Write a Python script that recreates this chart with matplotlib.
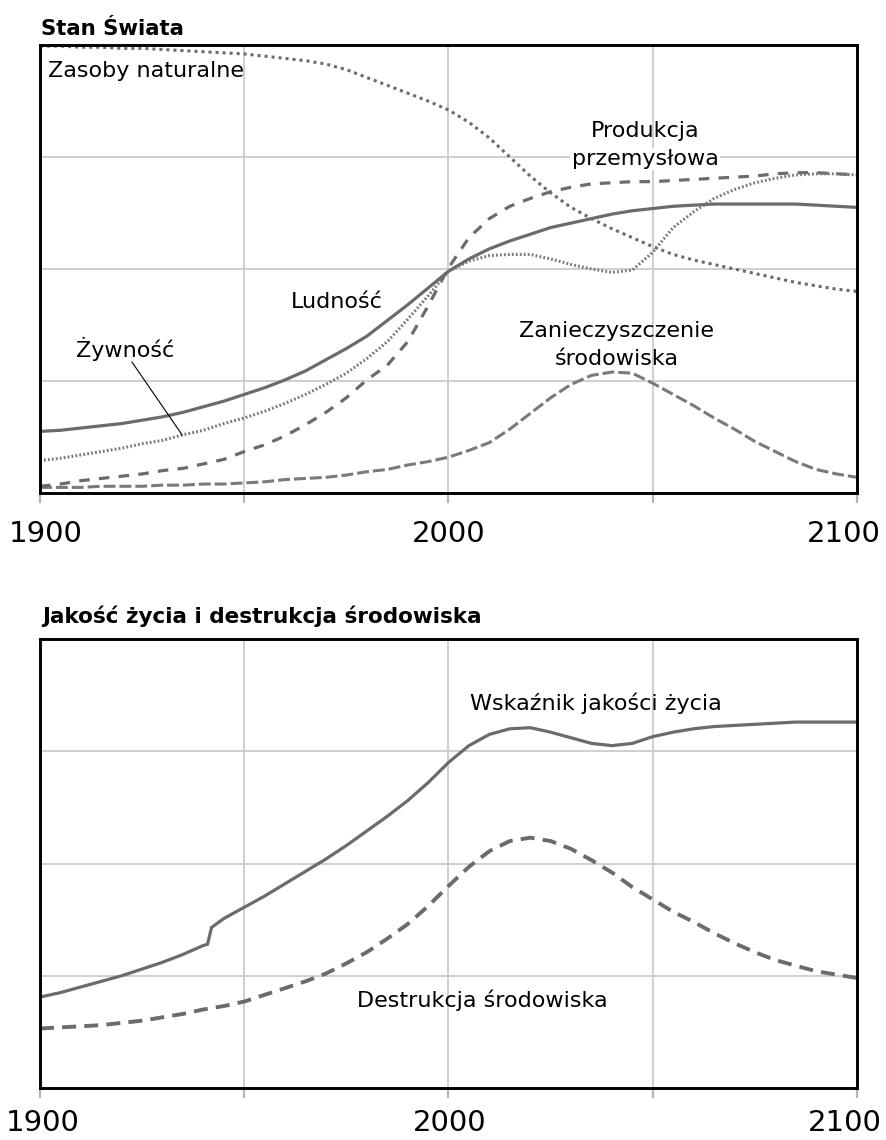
import matplotlib
matplotlib.use("Agg")
import matplotlib.pyplot as plt

plt.rcParams['font.family'] = ['DejaVu Sans']

# ---------------- data ----------------
YEARS = list(range(1900, 2101, 5))

population = [0.55, 0.56, 0.58, 0.60, 0.62, 0.65, 0.68, 0.72, 0.77, 0.82,
              0.88, 0.94, 1.01, 1.09, 1.19, 1.29, 1.40, 1.54, 1.68, 1.83,
              1.98, 2.09, 2.18, 2.25, 2.31, 2.37, 2.41, 2.45, 2.49, 2.52,
              2.54, 2.56, 2.57, 2.58, 2.58, 2.58, 2.58, 2.58, 2.57, 2.56, 2.55]

food = [0.29, 0.31, 0.34, 0.37, 0.40, 0.44, 0.47, 0.52, 0.56, 0.62,
        0.67, 0.73, 0.80, 0.88, 0.97, 1.07, 1.20, 1.35, 1.55, 1.76,
        1.98, 2.07, 2.12, 2.13, 2.13, 2.09, 2.04, 2.00, 1.97, 1.99,
        2.15, 2.37, 2.51, 2.63, 2.71, 2.77, 2.81, 2.84, 2.85, 2.85, 2.84]

industry = [0.06, 0.08, 0.11, 0.13, 0.15, 0.17, 0.20, 0.22, 0.26, 0.30,
            0.37, 0.43, 0.51, 0.61, 0.72, 0.85, 1.01, 1.14, 1.35, 1.67,
            2.01, 2.28, 2.45, 2.56, 2.63, 2.69, 2.73, 2.76, 2.77, 2.78,
            2.78, 2.79, 2.80, 2.81, 2.82, 2.83, 2.85, 2.86, 2.86, 2.85, 2.84]

resources = [3.99, 3.99, 3.98, 3.98, 3.97, 3.97, 3.96, 3.95, 3.94, 3.93,
             3.92, 3.90, 3.88, 3.86, 3.83, 3.78, 3.71, 3.64, 3.57, 3.50,
             3.42, 3.31, 3.17, 3.00, 2.83, 2.68, 2.55, 2.45, 2.36, 2.28,
             2.20, 2.13, 2.08, 2.04, 2.00, 1.96, 1.92, 1.88, 1.85, 1.82, 1.80]

pollution = [0.05, 0.05, 0.05, 0.06, 0.06, 0.06, 0.07, 0.07, 0.08, 0.08,
             0.09, 0.10, 0.12, 0.13, 0.14, 0.16, 0.19, 0.21, 0.25, 0.28,
             0.32, 0.38, 0.45, 0.57, 0.71, 0.85, 0.97, 1.05, 1.08, 1.07,
             0.98, 0.88, 0.78, 0.67, 0.57, 0.46, 0.37, 0.28, 0.21, 0.17, 0.14]

QOL_YEARS = [1900, 1905, 1910, 1915, 1920, 1925, 1930, 1935, 1940, 1941, 1942,
             1945, 1950, 1955, 1960, 1965, 1970, 1975, 1980, 1985, 1990, 1995,
             2000, 2005, 2010, 2015, 2020, 2025, 2030, 2035, 2040, 2045, 2050,
             2055, 2060, 2065, 2070, 2075, 2080, 2085, 2090, 2095, 2100]

quality = [0.81, 0.85, 0.90, 0.95, 1.00, 1.06, 1.12, 1.19, 1.27, 1.28, 1.43,
           1.51, 1.61, 1.71, 1.82, 1.93, 2.04, 2.16, 2.29, 2.42, 2.56, 2.72,
           2.90, 3.05, 3.15, 3.20, 3.21, 3.17, 3.12, 3.07, 3.05, 3.07, 3.13,
           3.17, 3.20, 3.22, 3.23, 3.24, 3.25, 3.26, 3.26, 3.26, 3.26]

destruction = [0.53, 0.54, 0.55, 0.56, 0.58, 0.60, 0.63, 0.66, 0.70, 0.73,
               0.77, 0.83, 0.89, 0.95, 1.02, 1.11, 1.21, 1.33, 1.46, 1.62,
               1.80, 1.97, 2.11, 2.20, 2.23, 2.20, 2.13, 2.03, 1.92, 1.79,
               1.68, 1.57, 1.48, 1.38, 1.29, 1.21, 1.14, 1.09, 1.04, 1.01, 0.98]

TICK_YEARS = [1900, 1950, 2000, 2050, 2100]
LABEL_YEARS = [1900, 2000, 2100]
LABEL_TEXTS = ['1900', '2000', '2100']

# ---------------- styling ----------------
LINE = '#6b6b6b'
GRID = '#cccccc'
W, H = 887, 1140

fig = plt.figure(figsize=(W / 100, H / 100), dpi=100)
fig.patch.set_facecolor('white')

ax1 = fig.add_axes([40 / W, (H - 493) / H, 817 / W, 448 / H])
ax2 = fig.add_axes([40 / W, (H - 1088) / H, 817 / W, 449 / H])


def style(ax, label_gap, offsets):
    ax.set_xlim(1900, 2100)
    ax.set_ylim(0, 4)
    ax.set_xticks(TICK_YEARS)
    ax.set_xticklabels([''] * len(TICK_YEARS))
    ax.set_yticks([])
    ax.tick_params(axis='x', direction='out', length=7.5, width=1.6,
                   color='#b5b5b5')
    for yr in [1950, 2000, 2050]:
        ax.axvline(yr, color=GRID, lw=1.3, zorder=0)
    for yv in [1, 2, 3]:
        ax.axhline(yv, color=GRID, lw=1.3, zorder=0)
    for sp in ax.spines.values():
        sp.set_color('black')
        sp.set_linewidth(2.1)
        sp.set_zorder(5)
    for yr, lab, dx in zip(LABEL_YEARS, LABEL_TEXTS, offsets):
        ax.annotate(lab, xy=(yr, 0), xycoords=('data', 'axes fraction'),
                    xytext=(dx, -label_gap), textcoords='offset pixels',
                    ha='center', va='top', fontsize=21,
                    annotation_clip=False)


style(ax1, 27, [6, 0, -13])
style(ax2, 21, [3, 1, -12])

# ---------------- top panel ----------------
ax1.plot(YEARS, resources, color=LINE, lw=2.2, linestyle=(0, (1.0, 1.3)))
ax1.plot(YEARS, pollution, color='#7a7a7a', lw=2.2, linestyle=(0, (3.9, 1.3)))
ax1.plot(YEARS, industry, color=LINE, lw=2.3, linestyle=(0, (3.3, 2.9)))
ax1.plot(YEARS, food, color='#7a7a7a', lw=2.2, linestyle=(0, (0.6, 0.7)))
ax1.plot(YEARS, population, color=LINE, lw=2.3, solid_capstyle='butt')

fs = 16
ax1.text(1902.0, 3.714, 'Zasoby naturalne', fontsize=fs, ha='left', va='baseline')
ax1.text(2048.1, 3.179, 'Produkcja', fontsize=fs, ha='center', va='baseline')
ax1.text(2048.1, 2.929, 'przemysłowa', fontsize=fs, ha='center', va='baseline',
         bbox=dict(facecolor='white', edgecolor='none', pad=1))
ax1.text(1972.7, 1.652, 'Ludność', fontsize=fs, ha='center', va='baseline')
ax1.text(1920.8, 1.214, 'Żywność', fontsize=fs, ha='center', va='baseline')
ax1.plot([1922.5, 1934.8], [1.170, 0.518], color='black', lw=0.8)
ax1.text(2041.2, 1.393, 'Zanieczyszczenie', fontsize=fs, ha='center', va='baseline')
ax1.text(2041.2, 1.143, 'środowiska', fontsize=fs, ha='center', va='baseline')

# ---------------- bottom panel ----------------
ax2.plot(YEARS, destruction, color=LINE, lw=2.8, linestyle=(0, (3.6, 2.1)))
ax2.plot(QOL_YEARS, quality, color=LINE, lw=2.3)

ax2.text(2005.3, 3.367, 'Wskaźnik jakości życia', fontsize=fs, ha='left', va='baseline')
ax2.text(1977.6, 0.722, 'Destrukcja środowiska', fontsize=fs, ha='left', va='baseline')

# ---------------- titles ----------------
fig.text(41 / W, 1 - 35 / H, 'Stan Świata', fontsize=15.3, fontweight='bold',
         ha='left', va='baseline')
fig.text(42 / W, 1 - 623 / H, 'Jakość życia i destrukcja środowiska', fontsize=15.5,
         fontweight='bold', ha='left', va='baseline')

fig.savefig('out.png', dpi=100)
